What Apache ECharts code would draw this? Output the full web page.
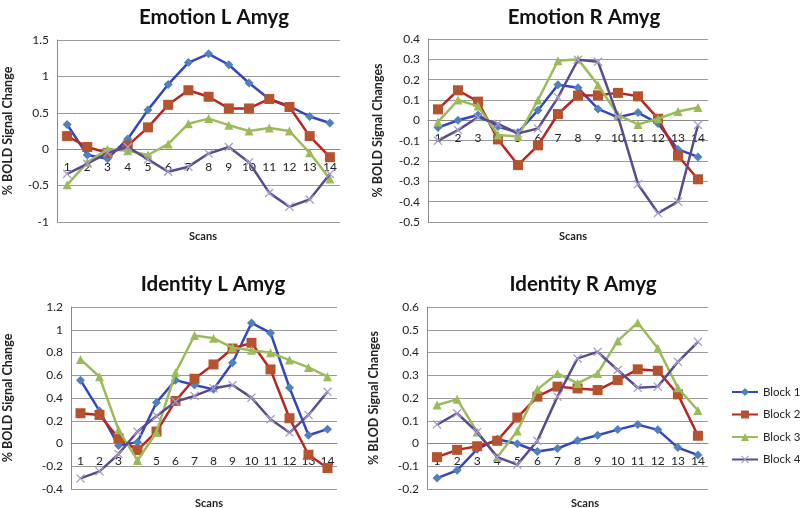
<!DOCTYPE html>
<html>
<head>
<meta charset="utf-8">
<script src="https://cdn.jsdelivr.net/npm/echarts@6/dist/echarts.min.js"></script>
<style>
  html, body { margin: 0; padding: 0; background: #fff; }
  #main { width: 800px; height: 508px; }
</style>
</head>
<body>
<div id="main"></div>
<script>
const scans = ['1', '2', '3', '4', '5', '6', '7', '8', '9', '10', '11', '12', '13', '14']
const blocks = ['Block 1', 'Block 2', 'Block 3', 'Block 4']

// Emotion L Amyg
const emoL1 = [0.34, -0.08, -0.13, 0.14, 0.54, 0.89, 1.19, 1.31, 1.16, 0.91, 0.69, 0.59, 0.45, 0.36]
const emoL2 = [0.18, 0.03, -0.05, 0.05, 0.30, 0.61, 0.81, 0.72, 0.56, 0.56, 0.69, 0.58, 0.18, -0.11]
const emoL3 = [-0.49, -0.18, 0.0, -0.02, -0.08, 0.07, 0.35, 0.42, 0.33, 0.25, 0.29, 0.25, -0.05, -0.41]
const emoL4 = [-0.34, -0.20, -0.05, 0.03, -0.14, -0.31, -0.24, -0.06, 0.03, -0.18, -0.60, -0.79, -0.69, -0.34]

// Emotion R Amyg
const emoR1 = [-0.035, 0.0, 0.026, -0.03, -0.06, 0.05, 0.175, 0.16, 0.056, 0.015, 0.038, -0.015, -0.143, -0.18]
const emoR2 = [0.054, 0.148, 0.092, -0.094, -0.22, -0.123, 0.031, 0.122, 0.123, 0.135, 0.118, 0.008, -0.174, -0.29]
const emoR3 = [-0.008, 0.10, 0.07, -0.072, -0.08, 0.10, 0.293, 0.301, 0.174, 0.026, -0.02, 0.008, 0.043, 0.063]
const emoR4 = [-0.10, -0.048, 0.015, -0.018, -0.064, -0.04, 0.113, 0.298, 0.288, 0.018, -0.314, -0.456, -0.40, -0.023]

// Identity L Amyg
const idL1 = [0.557, 0.286, -0.018, 0.012, 0.36, 0.557, 0.514, 0.476, 0.71, 1.06, 0.972, 0.49, 0.073, 0.126]
const idL2 = [0.266, 0.251, 0.047, -0.058, 0.105, 0.374, 0.569, 0.695, 0.835, 0.885, 0.651, 0.222, -0.099, -0.216]
const idL3 = [0.739, 0.587, 0.12, -0.149, 0.099, 0.622, 0.949, 0.926, 0.841, 0.82, 0.797, 0.733, 0.669, 0.587]
const idL4 = [-0.307, -0.245, -0.093, 0.105, 0.242, 0.368, 0.418, 0.485, 0.514, 0.403, 0.213, 0.096, 0.251, 0.455]

// Identity R Amyg
const idR1 = [-0.152, -0.118, -0.025, 0.019, -0.001, -0.035, -0.022, 0.013, 0.036, 0.061, 0.083, 0.06, -0.018, -0.051]
const idR2 = [-0.06, -0.028, -0.012, 0.012, 0.114, 0.206, 0.25, 0.242, 0.235, 0.279, 0.326, 0.32, 0.216, 0.034]
const idR3 = [0.169, 0.194, 0.051, -0.06, 0.055, 0.238, 0.308, 0.264, 0.308, 0.451, 0.531, 0.419, 0.245, 0.145]
const idR4 = [0.083, 0.133, 0.05, -0.06, -0.093, 0.012, 0.206, 0.374, 0.403, 0.323, 0.245, 0.25, 0.359, 0.447]

const panelTitles = ['Emotion L Amyg', 'Emotion R Amyg', 'Identity L Amyg', 'Identity R Amyg']
const yNames = ['% BOLD Signal Change', '% BOLD Signal Changes', '% BOLD Signal Change', '% BLOD Signal Changes']
const panelData = [
    [emoL1, emoL2, emoL3, emoL4],
    [emoR1, emoR2, emoR3, emoR4],
    [idL1, idL2, idL3, idL4],
    [idR1, idR2, idR3, idR4]
]
const yRanges = [[-1, 1.5, 0.5], [-0.5, 0.4, 0.1], [-0.4, 1.2, 0.2], [-0.2, 0.6, 0.1]]

const grids = [
    { left: 57, top: 40, width: 283, height: 182 },
    { left: 428, top: 39, width: 280, height: 183 },
    { left: 70, top: 307, width: 267, height: 182 },
    { left: 427, top: 307, width: 281, height: 182 }
]
const titlePos = [[209, 2], [579, 2], [208, 269], [578, 269]]
const scansPos = [[198, 226], [568, 226], [204, 493], [580, 493]]
const yNameGaps = [43, 44, 57, 47]

const lineColors = ['#3346C2', '#B8261F', '#9BBB59', '#5A4B8E']
const markColors = ['#4F81BD', '#B5532E', '#9BBB59', '#A89CC8']
const xMark = 'path://M0,1L1,0L5,4L9,0L10,1L6,5L10,9L9,10L5,6L1,10L0,9L4,5Z'
const symbols = ['diamond', 'rect', 'triangle', xMark]
const symbolSizes = [9, 10, 9, 9]

const chartDom = document.getElementById('main')
const myChart = echarts.init(chartDom, null, { width: 800, height: 508 })

const title = []
panelTitles.forEach((t, i) => {
    title.push({
        text: t,
        left: titlePos[i][0],
        top: titlePos[i][1],
        textAlign: 'center',
        textStyle: { fontFamily: 'Lato', fontSize: 20.5, fontWeight: 'bold', color: '#111' }
    })
    title.push({
        text: 'Scans',
        left: scansPos[i][0],
        top: scansPos[i][1],
        textAlign: 'center',
        textStyle: { fontFamily: 'Lato', fontSize: 11, fontWeight: 'bold', color: '#222' }
    })
})

// the category labels sit on the zero line, so shift each x axis up to it
const xAxis = grids.map((g, i) => ({
    type: 'category',
    gridIndex: i,
    data: scans,
    boundaryGap: true,
    position: 'bottom',
    offset: -g.height * (0 - yRanges[i][0]) / (yRanges[i][1] - yRanges[i][0]),
    axisLine: { onZero: false, lineStyle: { color: '#8a8a8a' } },
    axisTick: { show: false },
    axisLabel: { margin: 12, fontFamily: 'Lato', fontSize: 12, color: '#222' }
}))

const yAxis = grids.map((g, i) => ({
    type: 'value',
    gridIndex: i,
    min: yRanges[i][0],
    max: yRanges[i][1],
    interval: yRanges[i][2],
    name: yNames[i],
    nameLocation: 'middle',
    nameGap: yNameGaps[i],
    nameTextStyle: { fontFamily: 'Lato', fontSize: 12.5, fontWeight: 'bold', color: '#222' },
    axisLine: { show: true, lineStyle: { color: '#8a8a8a' } },
    axisTick: { show: false },
    axisLabel: { margin: 8, fontFamily: 'Lato', fontSize: 12, color: '#222' },
    splitLine: { lineStyle: { color: '#9a9a9a' } }
}))

const series = []
panelData.forEach((sets, i) => {
    sets.forEach((vals, b) => {
        series.push({
            name: blocks[b],
            type: 'line',
            xAxisIndex: i,
            yAxisIndex: i,
            data: vals,
            symbol: symbols[b],
            symbolSize: symbolSizes[b],
            showAllSymbol: true,
            lineStyle: { color: lineColors[b], width: 2.5 },
            itemStyle: { color: markColors[b] },
            emphasis: { disabled: true },
            z: 2 + b
        })
    })
})

const option = {
    animation: false,
    title,
    grid: grids,
    xAxis,
    yAxis,
    legend: {
        data: blocks,
        orient: 'vertical',
        left: 731,
        top: 386,
        padding: 0,
        itemWidth: 26,
        itemHeight: 10,
        itemGap: 10.5,
        textStyle: { fontFamily: 'Lato', fontSize: 11.5, color: '#222' }
    },
    series
}

option && myChart.setOption(option)
</script>
</body>
</html>
